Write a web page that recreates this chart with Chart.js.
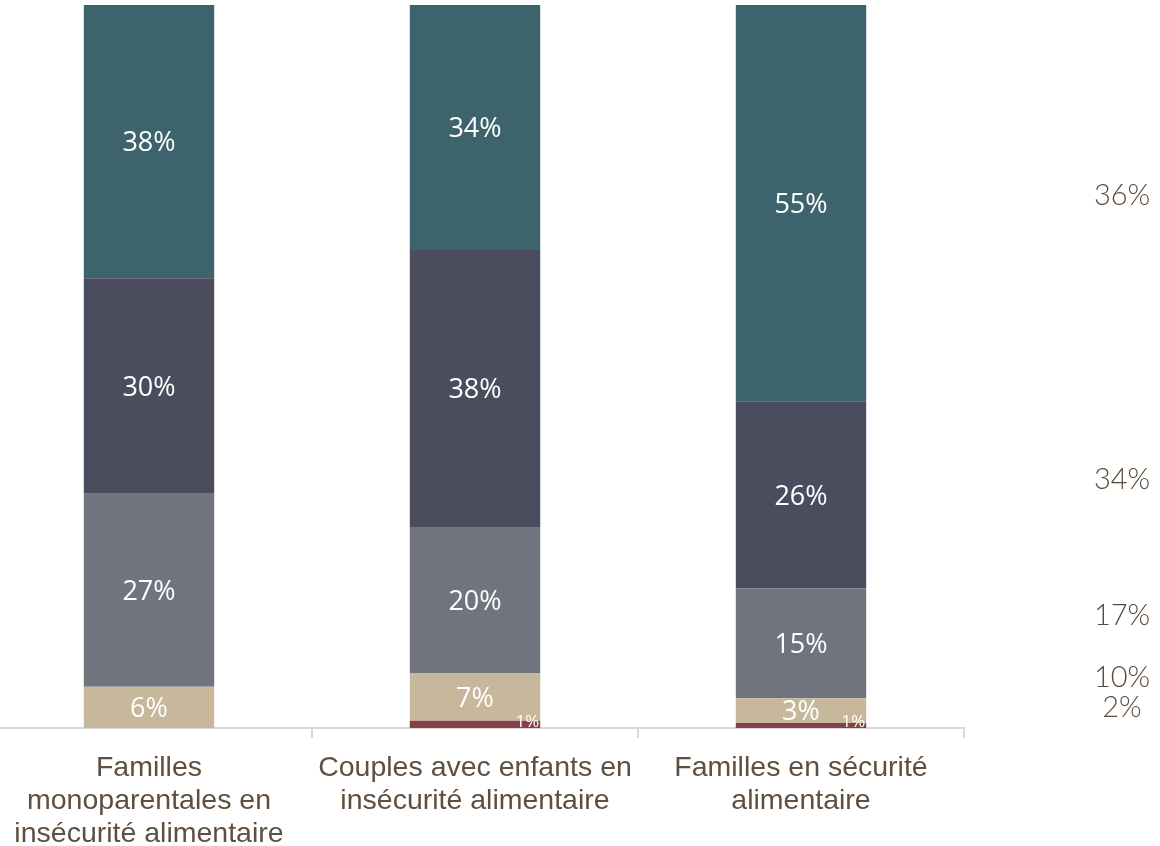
<!DOCTYPE html>
<html lang="fr">
<head>
<meta charset="utf-8">
<title>Familles et sécurité alimentaire</title>
<script src="https://cdn.jsdelivr.net/npm/chart.js@4"></script>
<style>
  html, body { margin: 0; padding: 0; background: #fff; overflow: hidden; }
  #wrap { position: absolute; left: -14px; top: 0; width: 1174px; height: 846px; }
</style>
</head>
<body>
<div id="wrap"><canvas id="chart"></canvas></div>
<script>
// categories (multi-line labels)
const categories = [
  ['Familles', 'monoparentales en', 'insécurité alimentaire'],
  ['Couples avec enfants en', 'insécurité alimentaire'],
  ['Familles en sécurité', 'alimentaire']
];

// series, bottom to top (%)
const seriesNames = ['Série 1', 'Série 2', 'Série 3', 'Série 4', 'Série 5'];
const serie1 = [0, 1.0, 0.7];
const serie2 = [5.7, 6.6, 3.4];
const serie3 = [26.7, 20.2, 15.2];
const serie4 = [29.8, 38.3, 25.9];
const serie5 = [37.9, 33.9, 54.8];
const colors = ['#85404a', '#c7b89b', '#70747f', '#4b4d5f', '#3d636c'];

// labels on the right side, with the value they sit at
const sideLabels = ['36%', '34%', '17%', '10%', '2%'];
const sideLabelValues = [73.7, 34.3, 15.6, 6.9, 2.8];

const allSeries = [serie1, serie2, serie3, serie4, serie5];

const labelPlugin = {
  id: 'segLabels',
  afterDatasetsDraw(chart) {
    const ctx = chart.ctx;
    ctx.save();
    chart.data.datasets.forEach((ds, di) => {
      const meta = chart.getDatasetMeta(di);
      meta.data.forEach((bar, i) => {
        const v = ds.data[i];
        if (!v) return;
        const txt = Math.round(v) + '%';
        ctx.fillStyle = '#ffffff';
        if (di === 0) {
          // tiny segment: label at lower right corner
          ctx.font = '17px "Open Sans"';
          ctx.textAlign = 'right';
          ctx.textBaseline = 'bottom';
          ctx.fillText(txt, bar.x + bar.width / 2 - 1, bar.base + 3);
        } else {
          ctx.font = '27px "Open Sans"';
          ctx.textAlign = 'center';
          ctx.textBaseline = 'middle';
          ctx.fillText(txt, bar.x, (bar.y + bar.base) / 2 + 2);
        }
      });
    });
    // side labels
    const y = chart.scales.y;
    const x = chart.scales.x;
    const step = (x.right - x.left) / categories.length;
    ctx.font = '300 29px Lato';
    ctx.fillStyle = '#5a4a3a';
    ctx.textAlign = 'center';
    ctx.textBaseline = 'middle';
    sideLabels.forEach((t, i) => {
      ctx.fillText(t, chart.chartArea.right + step / 2 - 5, y.getPixelForValue(sideLabelValues[i]));
    });
    ctx.restore();
  }
};

new Chart(document.getElementById('chart'), {
  type: 'bar',
  data: {
    labels: categories,
    datasets: allSeries.map((d, i) => ({
      label: seriesNames[i],
      data: d,
      backgroundColor: colors[i],
      borderWidth: 0,
      barPercentage: 0.4,
      categoryPercentage: 1.0
    }))
  },
  options: {
    responsive: true,
    maintainAspectRatio: false,
    animation: false,
    layout: { padding: { top: 5, right: 196, left: 0, bottom: 0 } },
    plugins: { legend: { display: false }, tooltip: { enabled: false } },
    scales: {
      x: {
        stacked: true,
        offset: true,
        border: { display: true, color: '#d9d9d9', width: 2 },
        grid: { offset: true, drawOnChartArea: false, drawTicks: true, tickLength: 10, color: '#d9d9d9', lineWidth: 2 },
        ticks: {
          color: '#5f4f40',
          padding: 14,
          maxRotation: 0,
          autoSkip: false,
          font: { family: '"Liberation Sans", Arial, sans-serif', size: 28.5, lineHeight: '33px' }
        },
        afterFit(scale) { scale.height = 118; }
      },
      y: {
        stacked: true,
        display: false,
        min: 0,
        max: 100
      }
    }
  },
  plugins: [labelPlugin]
});
</script>
</body>
</html>
